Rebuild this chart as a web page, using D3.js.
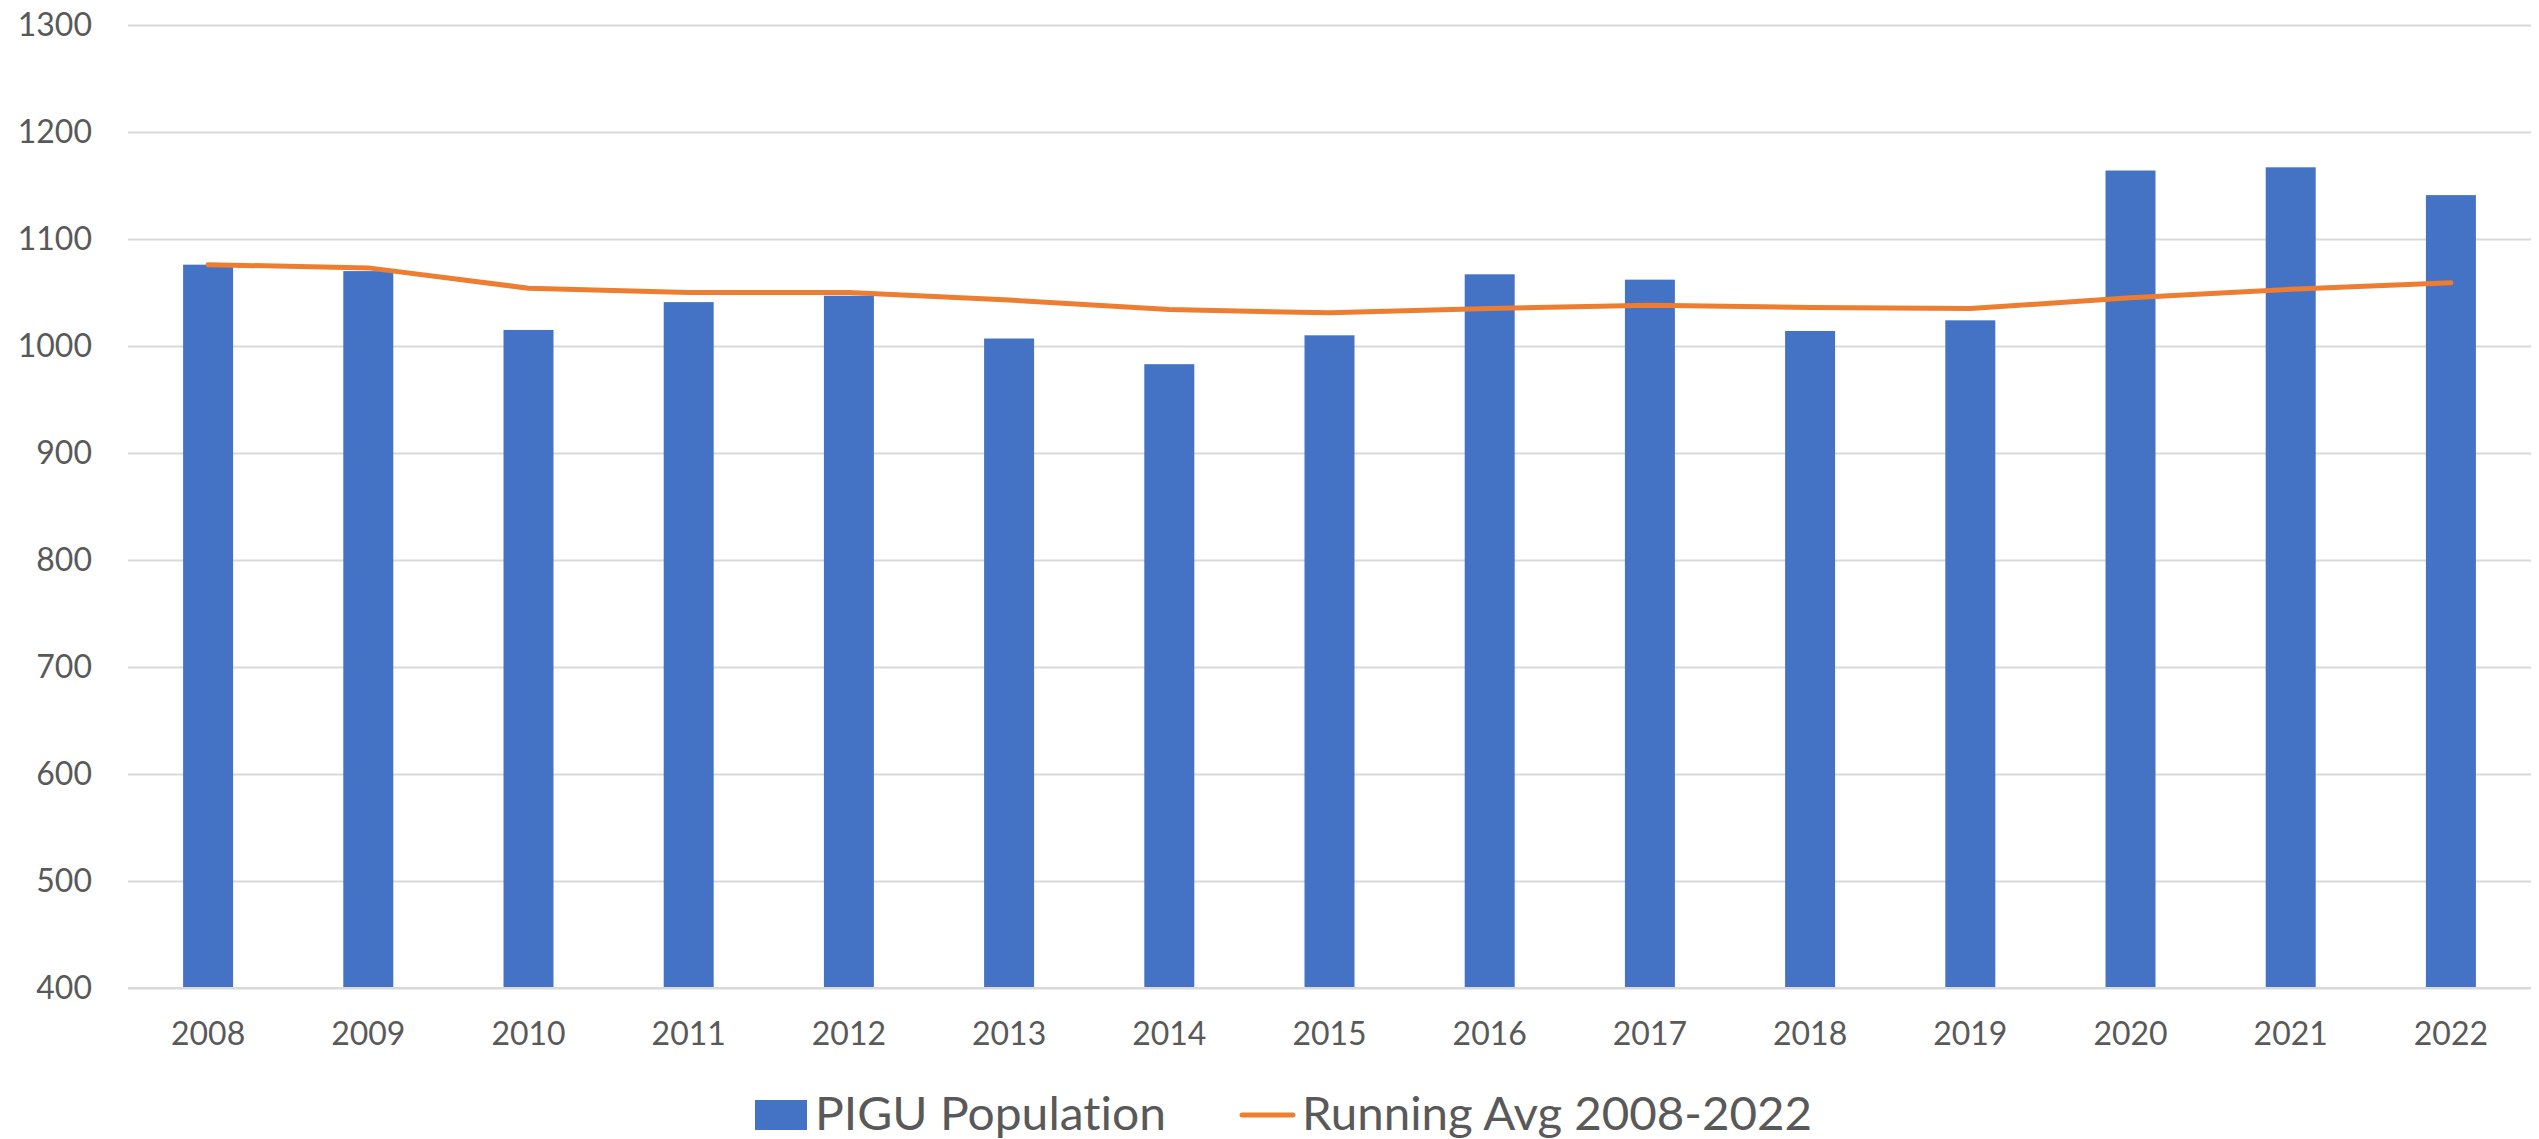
<!DOCTYPE html>
<html>
<head>
<meta charset="utf-8">
<script src="https://cdn.jsdelivr.net/npm/d3@7"></script>
<style>
  html, body { margin: 0; padding: 0; background: #ffffff; }
  svg { display: block; }
  text {
    font-family: Lato, "Open Sans", "DejaVu Sans", sans-serif;
    fill: #595959;
    font-variant-ligatures: none;
    font-feature-settings: "liga" 0, "clig" 0;
  }
</style>
</head>
<body>
<svg id="chart" width="2539" height="1139"></svg>
<script>
// Yearly counts and the running average across the period
const years = ["2008","2009","2010","2011","2012","2013","2014","2015","2016","2017","2018","2019","2020","2021","2022"];
const population = [1076, 1070, 1015, 1041, 1047, 1007, 983, 1010, 1067, 1062, 1014, 1024, 1164, 1167, 1141];
const runningAvg = [1076, 1073, 1054, 1050, 1050, 1043, 1034, 1031, 1035, 1038, 1036, 1035, 1045, 1053, 1059];
const yTicks = [400, 500, 600, 700, 800, 900, 1000, 1100, 1200, 1300];
const seriesNames = ["PIGU Population", "Running Avg 2008-2022"];

const barColor = "#4472C4";
const lineColor = "#ED7D31";
const gridColor = "#d9d9d9";

const svg = d3.select("#chart");
const plot = { left: 128, right: 2531, top: 25, bottom: 988 };

const x = d3.scaleBand()
  .domain(years)
  .range([plot.left, plot.right])
  .paddingInner(0.688)
  .paddingOuter(0.344);

const y = d3.scaleLinear()
  .domain([400, 1300])
  .range([plot.bottom, plot.top]);

// Horizontal gridlines and value labels
const yAxis = svg.append("g")
  .attr("transform", `translate(${plot.left},0)`)
  .call(d3.axisLeft(y)
    .tickValues(yTicks)
    .tickFormat(d3.format("d"))
    .tickSizeInner(-(plot.right - plot.left))
    .tickSizeOuter(0)
    .tickPadding(36));
yAxis.select(".domain").remove();
yAxis.selectAll(".tick line").attr("stroke", gridColor).attr("stroke-width", 2);
yAxis.selectAll(".tick text")
  .attr("font-size", 32)
  .attr("fill", "#595959")
  .style("font-family", "Lato, 'Open Sans', sans-serif");

// Bars
svg.append("g")
  .selectAll("rect")
  .data(population)
  .join("rect")
  .attr("x", (d, i) => x(years[i]))
  .attr("width", x.bandwidth())
  .attr("y", d => y(d))
  .attr("height", d => y(400) - y(d))
  .attr("fill", barColor);

// Baseline redrawn over the bars' feet
svg.append("line")
  .attr("x1", plot.left).attr("x2", plot.right)
  .attr("y1", y(400)).attr("y2", y(400))
  .attr("stroke", gridColor).attr("stroke-width", 2);

// Category labels
const xAxis = svg.append("g")
  .attr("transform", `translate(0,${plot.bottom})`)
  .call(d3.axisBottom(x).tickSize(0).tickPadding(34));
xAxis.select(".domain").remove();
xAxis.selectAll(".tick text")
  .attr("font-size", 32)
  .attr("fill", "#595959")
  .style("font-family", "Lato, 'Open Sans', sans-serif");

// Running average line
const line = d3.line()
  .x((d, i) => x(years[i]) + x.bandwidth() / 2)
  .y(d => y(d));
svg.append("path")
  .datum(runningAvg)
  .attr("d", line)
  .attr("fill", "none")
  .attr("stroke", lineColor)
  .attr("stroke-width", 5)
  .attr("stroke-linejoin", "round")
  .attr("stroke-linecap", "round");

// Legend
const legend = svg.append("g");
legend.append("rect")
  .attr("x", 755).attr("y", 1100).attr("width", 52).attr("height", 30)
  .attr("fill", barColor);
legend.append("text")
  .attr("x", 815).attr("y", 1130)
  .attr("font-size", 47)
  .attr("textLength", 351).attr("lengthAdjust", "spacingAndGlyphs")
  .text(seriesNames[0]);
legend.append("line")
  .attr("x1", 1242).attr("x2", 1293).attr("y1", 1115).attr("y2", 1115)
  .attr("stroke", lineColor).attr("stroke-width", 5).attr("stroke-linecap", "round");
legend.append("text")
  .attr("x", 1302).attr("y", 1130)
  .attr("font-size", 47)
  .attr("textLength", 510).attr("lengthAdjust", "spacingAndGlyphs")
  .text(seriesNames[1]);
</script>
</body>
</html>
